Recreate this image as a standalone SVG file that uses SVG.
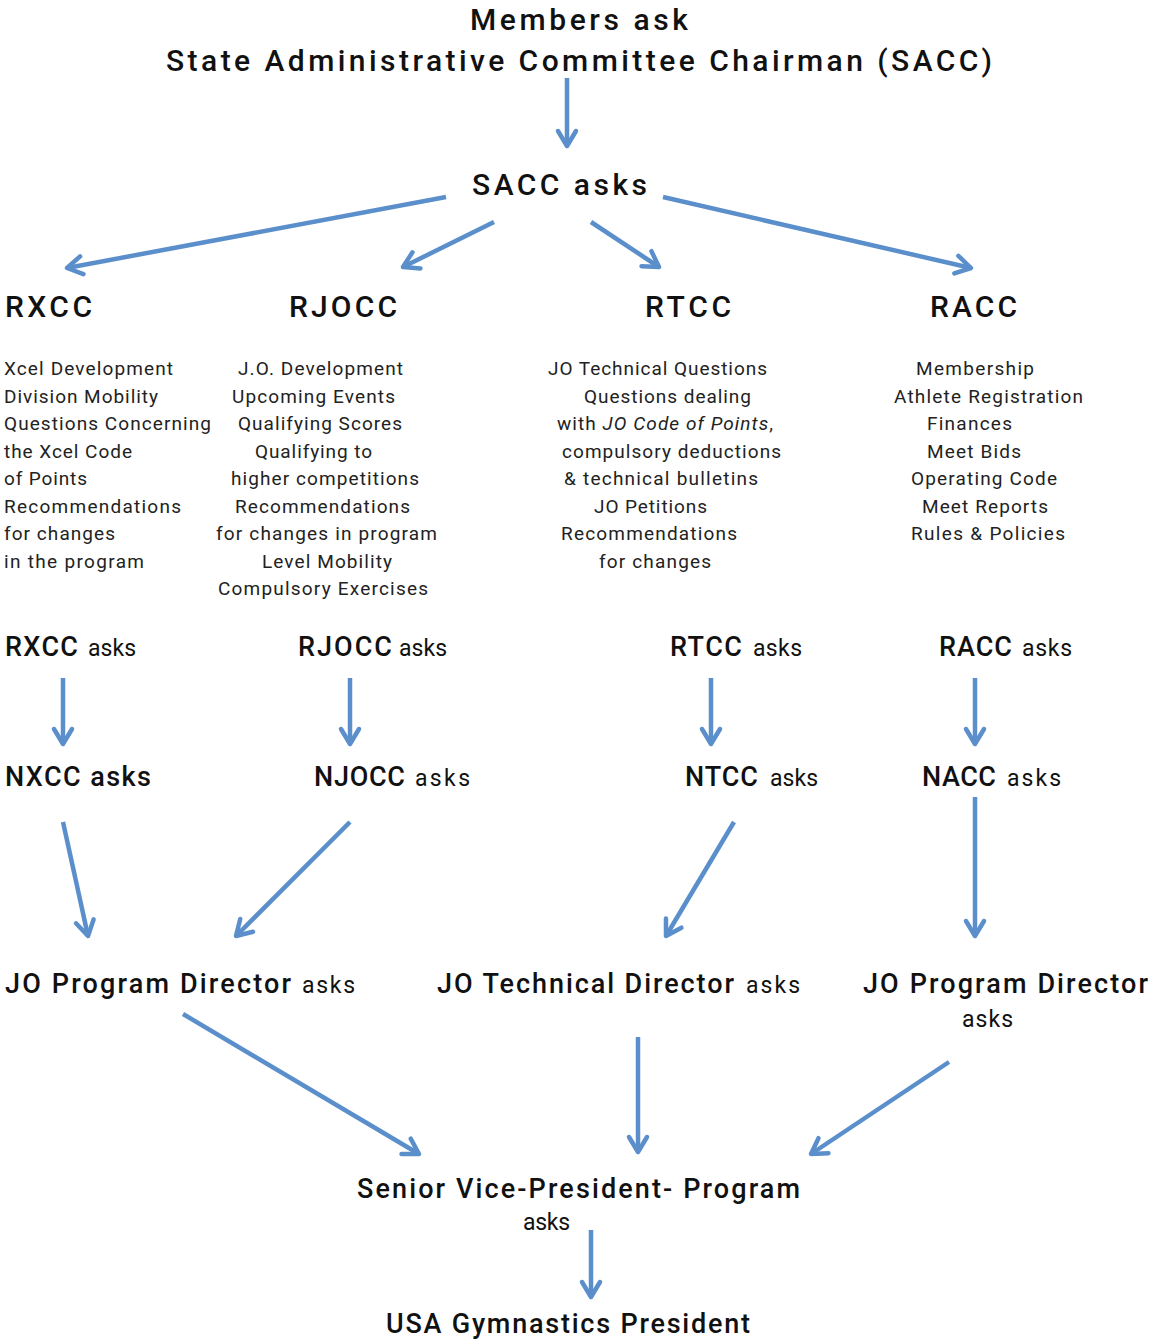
<svg xmlns="http://www.w3.org/2000/svg" width="1151" height="1342" viewBox="0 0 1151 1342">
<style>
text{font-family:Roboto,"Liberation Sans",sans-serif;fill:#111}
.h{font-size:30px;font-weight:500}
.h2{font-size:27px;font-weight:500}
.a{font-size:23px;font-weight:400}
.d{font-size:19px;font-weight:400;fill:#222}
.c line{stroke:#5b8fcb;stroke-width:4.5;stroke-linecap:butt;marker-end:url(#ah)}
</style>
<defs>
<marker id="ah" markerUnits="userSpaceOnUse" markerWidth="30" markerHeight="30" refX="0" refY="0" viewBox="-20 -15 30 30" orient="auto">
<path d="M-15,-9 L0,0 L-15,9" fill="none" stroke="#5b8fcb" stroke-width="4.5" stroke-linecap="round" stroke-linejoin="round"/>
</marker>
</defs>
<rect width="1151" height="1342" fill="#fff"/>
<g class="c" id="connectors">
<line x1="567" y1="78" x2="567" y2="146"/>
<line x1="446" y1="197" x2="67" y2="268"/>
<line x1="494" y1="222" x2="403" y2="267"/>
<line x1="591" y1="222" x2="659" y2="267"/>
<line x1="663" y1="197" x2="971" y2="268"/>
<line x1="63" y1="678" x2="63" y2="744"/>
<line x1="350" y1="678" x2="350" y2="744"/>
<line x1="711" y1="678" x2="711" y2="744"/>
<line x1="975" y1="678" x2="975" y2="744"/>
<line x1="63" y1="822" x2="88" y2="936"/>
<line x1="350" y1="822" x2="236" y2="936"/>
<line x1="734" y1="822" x2="666" y2="936"/>
<line x1="975" y1="797" x2="975" y2="936"/>
<line x1="183" y1="1014" x2="419" y2="1154"/>
<line x1="638" y1="1037" x2="638" y2="1152"/>
<line x1="949" y1="1062" x2="811" y2="1154"/>
<line x1="591" y1="1230" x2="591" y2="1297"/>
</g>
<g id="members">
<text class="h" x="470" y="30" textLength="218" lengthAdjust="spacing">Members ask</text>
<text class="h" x="166" y="71" textLength="826" lengthAdjust="spacing">State Administrative Committee Chairman (SACC)</text>
</g>
<g id="sacc"><text class="h" x="472" y="195" textLength="175" lengthAdjust="spacing">SACC asks</text></g>
<g id="rxcc">
<text class="h" x="5" y="317" textLength="87" lengthAdjust="spacing">RXCC</text>
<text class="d" x="4" y="375" textLength="169" lengthAdjust="spacing">Xcel Development</text>
<text class="d" x="4" y="402.5" textLength="154" lengthAdjust="spacing">Division Mobility</text>
<text class="d" x="4" y="430" textLength="207" lengthAdjust="spacing">Questions Concerning</text>
<text class="d" x="4" y="457.5" textLength="128" lengthAdjust="spacing">the Xcel Code</text>
<text class="d" x="4" y="485" textLength="83" lengthAdjust="spacing">of Points</text>
<text class="d" x="4" y="512.5" textLength="177" lengthAdjust="spacing">Recommendations</text>
<text class="d" x="4" y="540" textLength="111" lengthAdjust="spacing">for changes</text>
<text class="d" x="4" y="567.5" textLength="140" lengthAdjust="spacing">in the program</text>
</g>
<g id="rjocc">
<text class="h" x="289" y="317" textLength="108" lengthAdjust="spacing">RJOCC</text>
<text class="d" x="238" y="375" textLength="165" lengthAdjust="spacing">J.O. Development</text>
<text class="d" x="232" y="402.5" textLength="163" lengthAdjust="spacing">Upcoming Events</text>
<text class="d" x="238" y="430" textLength="164" lengthAdjust="spacing">Qualifying Scores</text>
<text class="d" x="255" y="457.5" textLength="117" lengthAdjust="spacing">Qualifying to</text>
<text class="d" x="231" y="485" textLength="188" lengthAdjust="spacing">higher competitions</text>
<text class="d" x="235" y="512.5" textLength="175" lengthAdjust="spacing">Recommendations</text>
<text class="d" x="216" y="540" textLength="221" lengthAdjust="spacing">for changes in program</text>
<text class="d" x="262" y="567.5" textLength="130" lengthAdjust="spacing">Level Mobility</text>
<text class="d" x="218" y="595" textLength="210" lengthAdjust="spacing">Compulsory Exercises</text>
</g>
<g id="rtcc">
<text class="h" x="645" y="317" textLength="86" lengthAdjust="spacing">RTCC</text>
<text class="d" x="548" y="375" textLength="219" lengthAdjust="spacing">JO Technical Questions</text>
<text class="d" x="584" y="402.5" textLength="167" lengthAdjust="spacing">Questions dealing</text>
<text class="d" x="557" y="430" textLength="216" lengthAdjust="spacing">with <tspan font-style="italic">JO Code of Points</tspan>,</text>
<text class="d" x="562" y="457.5" textLength="219" lengthAdjust="spacing">compulsory deductions</text>
<text class="d" x="564" y="485" textLength="194" lengthAdjust="spacing">&amp; technical bulletins</text>
<text class="d" x="594" y="512.5" textLength="113" lengthAdjust="spacing">JO Petitions</text>
<text class="d" x="561" y="540" textLength="176" lengthAdjust="spacing">Recommendations</text>
<text class="d" x="599" y="567.5" textLength="112" lengthAdjust="spacing">for changes</text>
</g>
<g id="racc">
<text class="h" x="930" y="317" textLength="87" lengthAdjust="spacing">RACC</text>
<text class="d" x="916" y="375" textLength="118" lengthAdjust="spacing">Membership</text>
<text class="d" x="894" y="402.5" textLength="189" lengthAdjust="spacing">Athlete Registration</text>
<text class="d" x="927" y="430" textLength="85" lengthAdjust="spacing">Finances</text>
<text class="d" x="927" y="457.5" textLength="94" lengthAdjust="spacing">Meet Bids</text>
<text class="d" x="911" y="485" textLength="146" lengthAdjust="spacing">Operating Code</text>
<text class="d" x="922" y="512.5" textLength="126" lengthAdjust="spacing">Meet Reports</text>
<text class="d" x="911" y="540" textLength="154" lengthAdjust="spacing">Rules &amp; Policies</text>
</g>
<g id="rxcc-asks"><text class="h2" x="5" y="656" textLength="73" lengthAdjust="spacing">RXCC</text><text class="a" x="88" y="656" textLength="48" lengthAdjust="spacing">asks</text></g>
<g id="rjocc-asks"><text class="h2" x="298" y="656" textLength="94" lengthAdjust="spacing">RJOCC</text><text class="a" x="399" y="656" textLength="48" lengthAdjust="spacing">asks</text></g>
<g id="rtcc-asks"><text class="h2" x="670" y="656" textLength="72" lengthAdjust="spacing">RTCC</text><text class="a" x="753" y="656" textLength="49" lengthAdjust="spacing">asks</text></g>
<g id="racc-asks"><text class="h2" x="939" y="656" textLength="73" lengthAdjust="spacing">RACC</text><text class="a" x="1022" y="656" textLength="50" lengthAdjust="spacing">asks</text></g>
<g id="nxcc"><text class="h2" x="5" y="786" textLength="146" lengthAdjust="spacing">NXCC asks</text></g>
<g id="njocc"><text class="h2" x="314" y="786" textLength="91" lengthAdjust="spacing">NJOCC</text><text class="a" x="415" y="786" textLength="55" lengthAdjust="spacing">asks</text></g>
<g id="ntcc"><text class="h2" x="685" y="786" textLength="73" lengthAdjust="spacing">NTCC</text><text class="a" x="770" y="786" textLength="48" lengthAdjust="spacing">asks</text></g>
<g id="nacc"><text class="h2" x="922" y="786" textLength="74" lengthAdjust="spacing">NACC</text><text class="a" x="1007" y="786" textLength="54" lengthAdjust="spacing">asks</text></g>
<g id="jo-program-1"><text class="h2" x="5" y="993" textLength="286" lengthAdjust="spacing">JO Program Director</text><text class="a" x="302" y="993" textLength="53" lengthAdjust="spacing">asks</text></g>
<g id="jo-technical"><text class="h2" x="437" y="993" textLength="297" lengthAdjust="spacing">JO Technical Director</text><text class="a" x="746" y="993" textLength="54" lengthAdjust="spacing">asks</text></g>
<g id="jo-program-2"><text class="h2" x="863" y="993" textLength="285" lengthAdjust="spacing">JO Program Director</text><text class="a" x="962" y="1027" textLength="51" lengthAdjust="spacing">asks</text></g>
<g id="svp"><text class="h2" x="357" y="1198" textLength="443" lengthAdjust="spacing">Senior Vice-President- Program</text><text class="a" x="523" y="1230" textLength="47" lengthAdjust="spacing">asks</text></g>
<g id="president"><text class="h2" x="386" y="1333" textLength="364" lengthAdjust="spacing">USA Gymnastics President</text></g>
</svg>
